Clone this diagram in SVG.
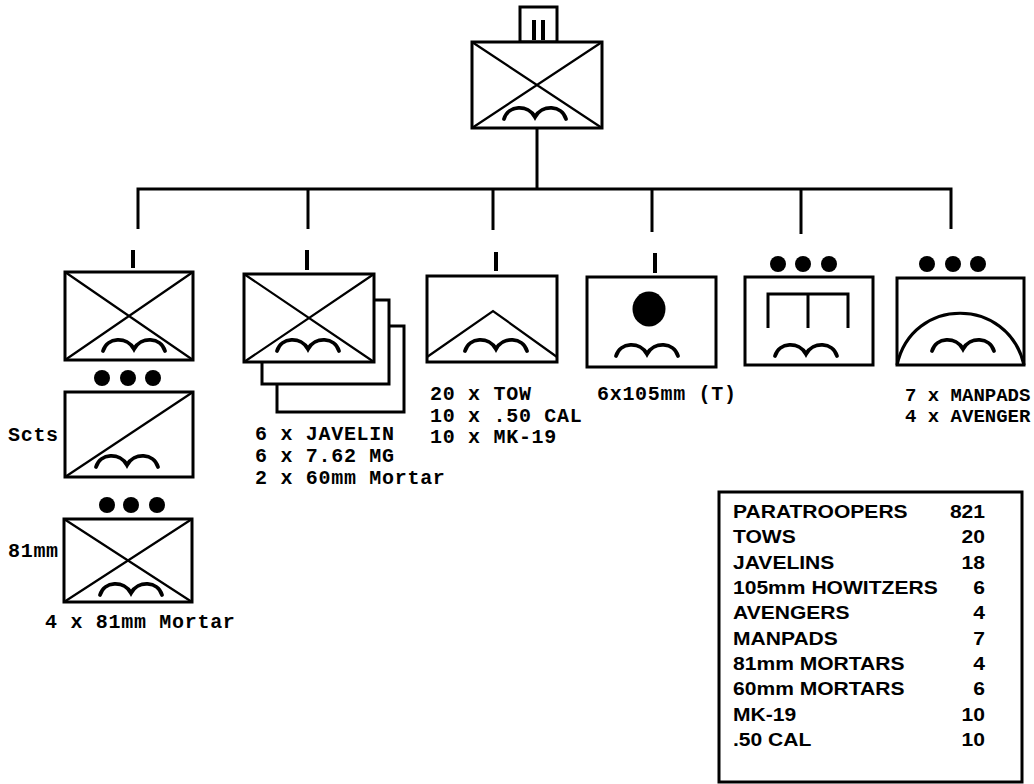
<svg xmlns="http://www.w3.org/2000/svg" width="1034" height="784" viewBox="0 0 1034 784">
<style>
.box{fill:#fff;stroke:#000;stroke-width:3}
.ln{fill:none;stroke:#000;stroke-width:2.2}
.wv{fill:none;stroke:#000;stroke-width:3.8;stroke-linecap:round}
.con{fill:none;stroke:#000;stroke-width:3}
.mark{stroke:#000;stroke-width:4}
.mono{font-family:"Liberation Mono","Courier New",monospace;font-weight:bold;font-size:20px;letter-spacing:0.7px;fill:#000}
.tbl{font-family:"Liberation Sans",Arial,sans-serif;font-weight:bold;font-size:18px;fill:#000}
</style>
<defs>
<path id="wave" class="wv" d="M-31,7 C-27,-7 -7,-8 0,5 C7,-8 27,-7 31,7"/>
</defs>
<rect width="1034" height="784" fill="#fff"/>

<g id="connectors">
<line class="con" x1="537" y1="128" x2="537" y2="189"/>
<polyline class="con" points="138,229 138,189 951,189 951,229"/>
<line class="con" x1="308" y1="189" x2="308" y2="229"/>
<line class="con" x1="493" y1="189" x2="493" y2="230"/>
<line class="con" x1="652" y1="189" x2="652" y2="232"/>
<line class="con" x1="801" y1="189" x2="801" y2="234"/>
</g>

<g id="hq">
<rect class="box" x="520" y="7" width="37" height="35"/>
<line class="mark" x1="534" y1="20" x2="534" y2="40"/>
<line class="mark" x1="543" y1="20" x2="543" y2="40"/>
<rect class="box" x="472" y="42" width="130" height="86"/>
<path class="ln" d="M472,42 L602,128 M602,42 L472,128"/>
<use href="#wave" x="535" y="112"/>
</g>

<g id="rifle-company">
<line class="mark" x1="133" y1="250" x2="133" y2="268"/>
<rect class="box" x="65" y="272" width="128" height="88"/>
<path class="ln" d="M65,272 L193,360 M193,272 L65,360"/>
<use href="#wave" x="134" y="344"/>
</g>

<g id="scout-platoon">
<circle cx="102" cy="378" r="8"/><circle cx="128" cy="378" r="8"/><circle cx="153" cy="378" r="8"/>
<rect class="box" x="65" y="392" width="128" height="85"/>
<path class="ln" d="M65,477 L193,392"/>
<use href="#wave" x="127" y="460"/>
<text class="mono" x="8" y="441">Scts</text>
</g>

<g id="mortar-platoon">
<circle cx="107" cy="505" r="8"/><circle cx="131" cy="505" r="8"/><circle cx="157" cy="505" r="8"/>
<rect class="box" x="64" y="519" width="128" height="83"/>
<path class="ln" d="M64,519 L192,602 M192,519 L64,602"/>
<use href="#wave" x="131" y="588"/>
<text class="mono" x="8" y="557">81mm</text>
<text class="mono" x="45" y="628">4 x 81mm Mortar</text>
</g>

<g id="rifle-companies">
<line class="mark" x1="307" y1="250" x2="307" y2="270"/>
<rect class="box" x="277" y="326" width="127" height="86"/>
<rect class="box" x="262" y="300" width="127" height="84"/>
<rect class="box" x="244" y="274" width="130" height="88"/>
<path class="ln" d="M244,274 L374,362 M374,274 L244,362"/>
<use href="#wave" x="308" y="344"/>
<text class="mono" x="255" y="440">6 x JAVELIN</text>
<text class="mono" x="255" y="462">6 x 7.62 MG</text>
<text class="mono" x="255" y="484">2 x 60mm Mortar</text>
</g>

<g id="antiarmor-company">
<line class="mark" x1="496" y1="252" x2="496" y2="271"/>
<rect class="box" x="427" y="276" width="130" height="86"/>
<path class="ln" d="M427,357 L493,311 L557,357"/>
<use href="#wave" x="496" y="344"/>
<text class="mono" x="430" y="400">20 x TOW</text>
<text class="mono" x="430" y="422">10 x .50 CAL</text>
<text class="mono" x="430" y="443">10 x MK-19</text>
</g>

<g id="artillery-battery">
<line class="mark" x1="655" y1="253" x2="655" y2="273"/>
<rect class="box" x="587" y="277" width="129" height="90"/>
<ellipse cx="649" cy="309" rx="16.5" ry="17.5"/>
<use href="#wave" x="647" y="349"/>
<text class="mono" x="597" y="400">6x105mm (T)</text>
</g>

<g id="engineer-platoon">
<circle cx="778" cy="264" r="8"/><circle cx="803" cy="264" r="8"/><circle cx="829" cy="264" r="8"/>
<rect class="box" x="745" y="277" width="128" height="88"/>
<path class="ln" d="M768,328 L768,294 L848,294 L848,328 M808,294 L808,328" style="stroke-width:3"/>
<use href="#wave" x="806" y="349"/>
</g>

<g id="ada-platoon">
<circle cx="927" cy="264" r="8"/><circle cx="953" cy="264" r="8"/><circle cx="978" cy="264" r="8"/>
<rect class="box" x="897" y="278" width="127" height="87"/>
<path class="ln" d="M897,365 C912,296 1008,296 1024,365" style="stroke-width:3.2"/>
<use href="#wave" x="963" y="344"/>
<text class="mono" x="905" y="401" style="font-size:19px;letter-spacing:0">7 x MANPADS</text>
<text class="mono" x="905" y="422" style="font-size:19px;letter-spacing:0">4 x AVENGER</text>
</g>

<g id="summary-table">
<rect class="box" x="719" y="492" width="303" height="290"/>
<g transform="translate(733,0) scale(1.17,1)">
<text class="tbl" x="0" y="518">PARATROOPERS</text>
<text class="tbl" x="0" y="543.5">TOWS</text>
<text class="tbl" x="0" y="569">JAVELINS</text>
<text class="tbl" x="0" y="594">105mm HOWITZERS</text>
<text class="tbl" x="0" y="619.5">AVENGERS</text>
<text class="tbl" x="0" y="645">MANPADS</text>
<text class="tbl" x="0" y="670">81mm MORTARS</text>
<text class="tbl" x="0" y="695.5">60mm MORTARS</text>
<text class="tbl" x="0" y="721">MK-19</text>
<text class="tbl" x="0" y="746">.50 CAL</text>
<g text-anchor="end">
<text class="tbl" x="215.4" y="518">821</text>
<text class="tbl" x="215.4" y="543.5">20</text>
<text class="tbl" x="215.4" y="569">18</text>
<text class="tbl" x="215.4" y="594">6</text>
<text class="tbl" x="215.4" y="619.5">4</text>
<text class="tbl" x="215.4" y="645">7</text>
<text class="tbl" x="215.4" y="670">4</text>
<text class="tbl" x="215.4" y="695.5">6</text>
<text class="tbl" x="215.4" y="721">10</text>
<text class="tbl" x="215.4" y="746">10</text>
</g>
</g>
</g>
</svg>
